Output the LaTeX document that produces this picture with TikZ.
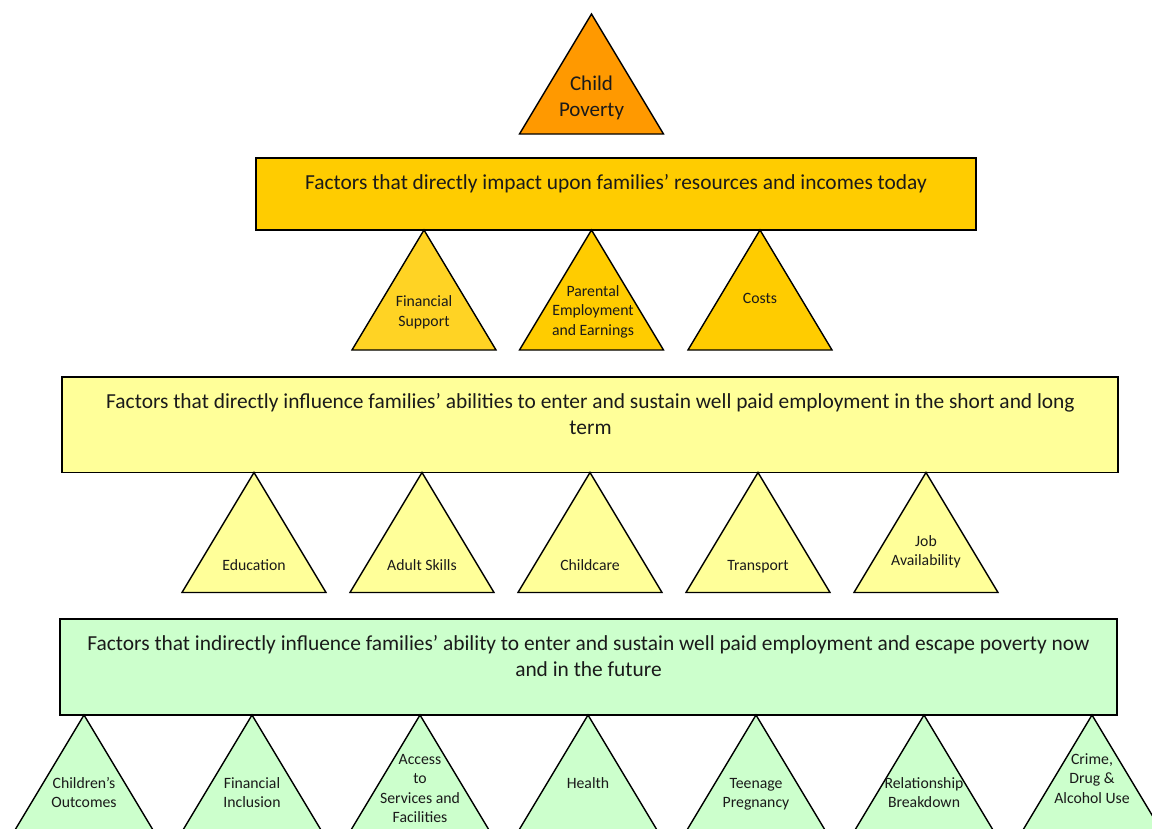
\documentclass[tikz,border=0pt]{standalone}
\usepackage{fontspec}
\setmainfont{Carlito}
\definecolor{cporange}{HTML}{FF9900}
\definecolor{cpgold}{HTML}{FFCC00}
\definecolor{cpgoldlight}{HTML}{FFD324}
\definecolor{cpyellow}{HTML}{FFFF99}
\definecolor{cpgreen}{HTML}{CCFFCC}
\definecolor{cptext}{HTML}{1A1A1A}
\newcommand\cptri[3]{\filldraw[tri, fill=#3] (#1,#2) -- ++(-72,120) -- ++(144,0) -- cycle;}
\begin{document}
\begin{tikzpicture}[x=1pt,y=-1pt,
  tri/.style={draw=black, line width=1.4pt, line join=miter},
  boxst/.style={draw=black, line width=1.4pt},
  bigtxt/.style={font=\fontsize{21.4}{25.6}\selectfont, text=cptext, align=center, anchor=base, inner sep=0pt},
  smtxt/.style={font=\fontsize{15.75}{19.4}\selectfont, text=cptext, align=center, anchor=base, inner sep=0pt}]
\useasboundingbox (0,0) rectangle (1152,828);
\clip (0,0) rectangle (1152,828);
% boxes
\filldraw[boxst, fill=cpgold] (256,158) rectangle (976,230);
\filldraw[boxst, fill=cpyellow] (62,377) rectangle (1118,472.5);
\filldraw[boxst, fill=cpgreen] (60,619) rectangle (1117,715);
% top triangle
\cptri{591.5}{14}{cporange}
% row 1
\cptri{424}{230}{cpgoldlight}
\cptri{591.5}{230}{cpgold}
\cptri{760}{230}{cpgold}
% row 2
\foreach \x in {254,422,590,758,926} {\cptri{\x}{472.5}{cpyellow}}
% row 3
\foreach \x in {84,252,420,588,756,924,1092} {\cptri{\x}{715}{cpgreen}}
% texts (anchor = baseline of the last line)
\node[bigtxt, font=\fontsize{21}{26}\selectfont] (cp) at (591.5,116) {Child\\Poverty};
\node[bigtxt] (t1) at (616,189) {Factors that directly impact upon families’ resources and incomes today};
\node[bigtxt] (t2) at (590.5,434.5) {Factors that directly influence families’ abilities to enter and sustain well paid employment in the short and long\\term};
\node[bigtxt] (t3) at (588.5,676.5) {Factors that indirectly influence families’ ability to enter and sustain well paid employment and escape poverty now\\and in the future};
\node[smtxt] (fs) at (424,326) {Financial\\Support};
\node[smtxt] (pe) at (593,335) {Parental\\Employment\\and Earnings};
\node[smtxt] (co) at (760,303) {Costs};
\node[smtxt] (ed) at (254,570) {Education};
\node[smtxt] (as) at (422,570) {Adult Skills};
\node[smtxt] (cc) at (590,570) {Childcare};
\node[smtxt] (tr) at (758,570) {Transport};
\node[smtxt] (ja) at (926,565.5) {Job\\Availability};
\node[smtxt] (ch) at (84,807.5) {Children’s\\Outcomes};
\node[smtxt] (fi) at (252,807.5) {Financial\\Inclusion};
\node[smtxt] (ac) at (420,822.5) {Access\\to\\Services and\\Facilities};
\node[smtxt] (he) at (588,788) {Health};
\node[smtxt] (tp) at (756,807.5) {Teenage\\Pregnancy};
\node[smtxt] (rb) at (924,807.5) {Relationship\\Breakdown};
\node[smtxt] (cr) at (1092,803) {Crime,\\Drug \&\\Alcohol Use};
\end{tikzpicture}
\end{document}
